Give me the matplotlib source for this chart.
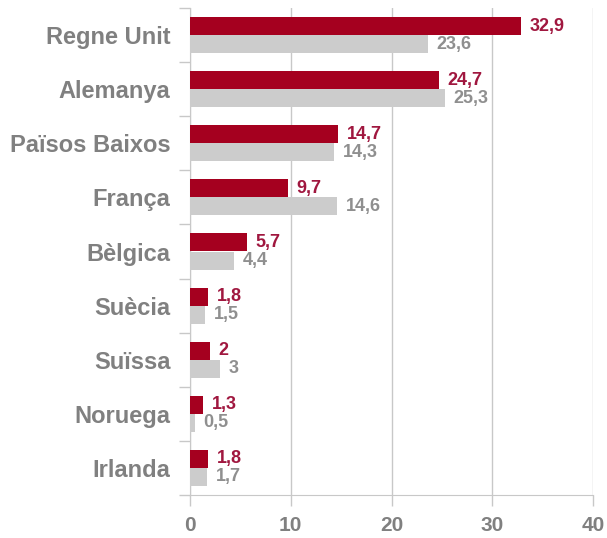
import matplotlib
matplotlib.use("Agg")
import matplotlib.pyplot as plt
import numpy as np
from matplotlib.ticker import FixedLocator, NullFormatter

categories = ["Regne Unit", "Alemanya", "Països Baixos", "França", "Bèlgica",
              "Suècia", "Suïssa", "Noruega", "Irlanda"]
red_values = [32.9, 24.7, 14.7, 9.7, 5.7, 1.8, 2, 1.3, 1.8]
grey_values = [23.6, 25.3, 14.3, 14.6, 4.4, 1.5, 3, 0.5, 1.7]
x_ticks = [0, 10, 20, 30, 40]

RED = "#a5001f"
RED_TXT = "#a0173f"
GREY = "#cccccc"
GREY_TXT = "#8f8f8f"
LABEL = "#808080"
LINE = "#c8c8c8"

plt.rcParams['font.family'] = ['Liberation Sans', 'DejaVu Sans']

fig = plt.figure(figsize=(6.07, 5.38), dpi=100)
ax = fig.add_axes([190/607, 1-495/538, (593-190)/607, (495-8)/538])

n = len(categories)
y = np.arange(n)
h = 1/3
ax.barh(y - h/2, red_values, height=h, color=RED, zorder=3)
ax.barh(y + h/2, grey_values, height=h, color=GREY, zorder=3)

def fmt(v):
    return f"{v:g}".replace('.', ',')

for yi, rv, gv in zip(y, red_values, grey_values):
    ax.annotate(fmt(rv), (rv, yi - h/2), xytext=(6, 0), textcoords="offset points",
                va="center", ha="left", fontsize=13, fontweight="bold", color=RED_TXT, zorder=4)
    ax.annotate(fmt(gv), (gv, yi + h/2), xytext=(6, 0), textcoords="offset points",
                va="center", ha="left", fontsize=13, fontweight="bold", color=GREY_TXT, zorder=4)

ax.set_xlim(0, 40)
ax.set_ylim(n - 0.5, -0.5)
ax.set_xticks(x_ticks)
ax.set_xticklabels([str(t) for t in x_ticks], fontsize=15, fontweight="bold", color=LABEL)
ax.xaxis.grid(True, color=LINE, linewidth=1, zorder=0)
ax.tick_params(axis='x', length=8, width=1, color=LINE, pad=7)

ax.set_yticks(y)
ax.set_yticklabels(categories, fontsize=17, fontweight="bold", color=LABEL)
ax.tick_params(axis='y', which='major', length=0, pad=14)
ax.yaxis.set_minor_locator(FixedLocator(np.arange(-0.5, n, 1)))
ax.yaxis.set_minor_formatter(NullFormatter())
ax.tick_params(axis='y', which='minor', length=8, width=1, color=LINE)

for s in ["top", "right"]:
    ax.spines[s].set_visible(False)
ax.spines["left"].set_color(LINE)
ax.spines["bottom"].set_color(LINE)
ax.spines["left"].set_zorder(1)

fig.savefig("out.png", dpi=100)
